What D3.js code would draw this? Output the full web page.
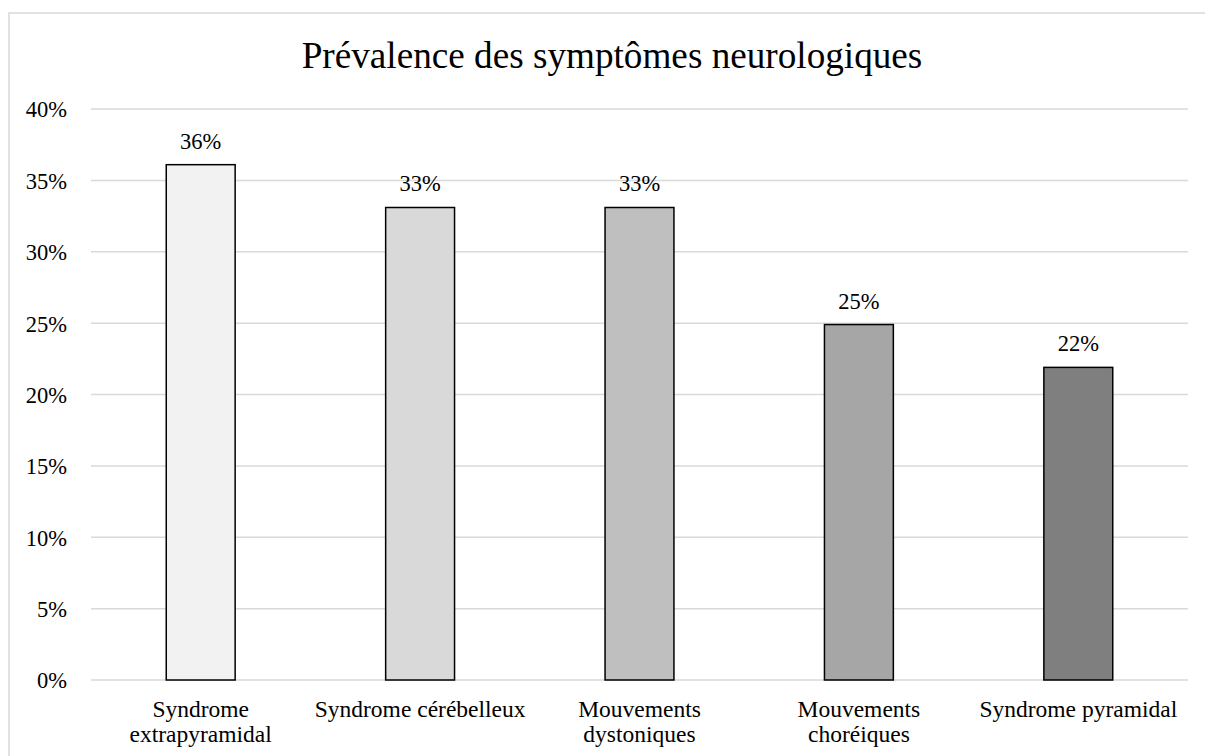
<!DOCTYPE html>
<html>
<head>
<meta charset="utf-8">
<script src="https://cdn.jsdelivr.net/npm/d3@7"></script>
<style>
	body { margin: 0; background: #fff; }
	text { font-family: "Liberation Serif", "Times New Roman", serif; fill: #000; }
</style>
</head>
<body>
<div id="chart"></div>
<script>
var categories = [
	["Syndrome", "extrapyramidal"],
	["Syndrome cérébelleux"],
	["Mouvements", "dystoniques"],
	["Mouvements", "choréiques"],
	["Syndrome pyramidal"]
];
var values = [0.361, 0.331, 0.331, 0.249, 0.219];
var labels = ["36%", "33%", "33%", "25%", "22%"];
var fills = ["#f2f2f2", "#d9d9d9", "#bfbfbf", "#a6a6a6", "#7f7f7f"];
var yTicks = [0, 0.05, 0.10, 0.15, 0.20, 0.25, 0.30, 0.35, 0.40];

(function() {
	var width = 1205,
		height = 756;
	var margin = {left: 91, right: 17, top: 109, bottom: 76};

	var svg = d3.select("#chart")
		.append("svg")
		.attr("width", width)
		.attr("height", height)

	// chart frame
	svg.append("rect")
		.attr("x", 9)
		.attr("y", 13)
		.attr("width", width)
		.attr("height", height)
		.attr("fill", "none")
		.attr("stroke", "#d9d9d9")
		.attr("stroke-width", 1.5)

	svg.append("text")
		.attr("x", 612)
		.attr("y", 68)
		.attr("text-anchor", "middle")
		.style("font-size", "37.2px")
		.text("Prévalence des symptômes neurologiques")

	var x = d3.scaleBand()
		.domain(d3.range(values.length))
		.range([margin.left, width - margin.right])
		.paddingInner(0.686)
		.paddingOuter(0.343)

	var y = d3.scaleLinear()
		.domain([0, 0.40])
		.range([height - margin.bottom, margin.top])

	// gridlines
	svg.append("g")
		.selectAll("line")
		.data(yTicks)
		.enter().append("line")
		.attr("x1", margin.left)
		.attr("x2", width - margin.right)
		.attr("y1", function(d) { return y(d); })
		.attr("y2", function(d) { return y(d); })
		.attr("stroke", "#d9d9d9")
		.attr("stroke-width", 1.5)

	var yAxis = d3.axisLeft(y)
		.tickValues(yTicks)
		.tickFormat(d3.format(".0%"))
		.tickSize(0)
		.tickPadding(24)

	svg.append("g")
		.attr("transform", "translate(" + margin.left + ",0)")
		.call(yAxis)
		.call(function(g) { g.select(".domain").remove(); })
		.selectAll("text")
		.style("font-size", "22.5px")
		.attr("dy", "0.35em")

	svg.selectAll(".bar")
		.data(values)
		.enter().append("rect")
		.attr("class", "bar")
		.attr("x", function(d, i) { return x(i); })
		.attr("y", function(d) { return y(d); })
		.attr("width", x.bandwidth())
		.attr("height", function(d) { return y(0) - y(d); })
		.attr("fill", function(d, i) { return fills[i]; })
		.attr("stroke", "#000")
		.attr("stroke-width", 1.5)

	svg.selectAll(".value")
		.data(values)
		.enter().append("text")
		.attr("class", "value")
		.attr("x", function(d, i) { return x(i) + x.bandwidth() / 2; })
		.attr("y", function(d) { return y(d) - 16; })
		.attr("text-anchor", "middle")
		.style("font-size", "22.5px")
		.text(function(d, i) { return labels[i]; })

	var cat = svg.selectAll(".cat")
		.data(categories)
		.enter().append("text")
		.attr("class", "cat")
		.attr("text-anchor", "middle")
		.style("font-size", "23.5px")
		.attr("transform", function(d, i) {
			return "translate(" + (x(i) + x.bandwidth() / 2) + ",717)";
		})

	cat.selectAll("tspan")
		.data(function(d) { return d; })
		.enter().append("tspan")
		.attr("x", 0)
		.attr("y", function(d, j) { return j * 25; })
		.text(function(d) { return d; })
}) ();
</script>
</body>
</html>
